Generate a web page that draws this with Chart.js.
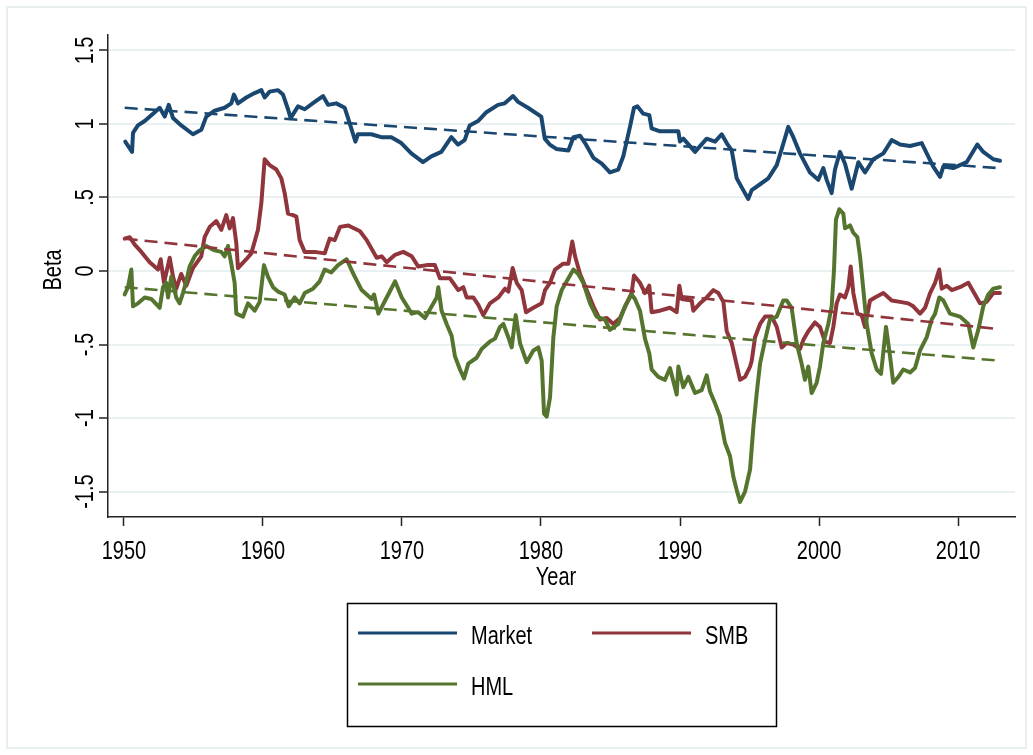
<!DOCTYPE html>
<html lang="en">
<head>
<meta charset="UTF-8">
<title>Rolling betas</title>
<script src="https://cdn.jsdelivr.net/npm/chart.js"></script>
<style>
  html, body { margin: 0; padding: 0; background: #fff; }
</style>
</head>
<body>
<canvas id="betaChart" width="1033" height="755"></canvas>
<script>
// values (year, beta)
const marketYears = [
  1950.09, 1950.58, 1950.65, 1951.00, 1951.49, 1952.09, 1952.57, 1952.93, 1953.22, 1953.53,
  1954.12, 1954.96, 1955.56, 1955.92, 1956.52, 1957.24, 1957.72, 1957.91, 1958.20, 1958.80,
  1959.40, 1959.88, 1960.12, 1960.48, 1961.08, 1961.44, 1961.80, 1961.99, 1962.52, 1963.00,
  1963.72, 1964.32, 1964.68, 1965.27, 1965.88, 1966.12, 1966.65, 1966.83, 1967.79, 1968.51,
  1969.23, 1969.95, 1970.67, 1971.51, 1972.11, 1972.83, 1973.55, 1974.03, 1974.51, 1974.87,
  1975.47, 1976.07, 1976.91, 1977.39, 1977.99, 1978.35, 1979.06, 1980.02, 1980.27, 1980.63,
  1981.10, 1981.97, 1982.33, 1982.81, 1983.17, 1983.77, 1984.37, 1984.96, 1985.56, 1985.92,
  1986.40, 1986.69, 1986.93, 1987.36, 1987.79, 1987.96, 1988.56, 1989.28, 1989.88, 1990.00,
  1990.24, 1991.08, 1991.92, 1992.52, 1993.00, 1993.36, 1993.72, 1994.08, 1994.55, 1994.91,
  1995.16, 1995.76, 1996.35, 1996.96, 1997.32, 1997.79, 1998.15, 1998.63, 1999.35, 1999.95,
  2000.31, 2000.55, 2000.91, 2001.15, 2001.51, 2001.87, 2002.35, 2002.83, 2003.31, 2003.91,
  2004.63, 2005.23, 2005.83, 2006.55, 2007.39, 2007.75, 2008.22, 2008.71, 2008.94, 2009.66,
  2010.62, 2011.39, 2011.82, 2012.54, 2013.02
];
const marketBeta = [
  0.88, 0.81, 0.94, 0.99, 1.02, 1.07, 1.11, 1.05, 1.13, 1.04,
  0.99, 0.93, 0.96, 1.05, 1.09, 1.11, 1.14, 1.20, 1.14, 1.18,
  1.21, 1.23, 1.18, 1.22, 1.23, 1.20, 1.10, 1.04, 1.12, 1.10,
  1.15, 1.19, 1.13, 1.14, 1.11, 1.04, 0.88, 0.93, 0.93, 0.91,
  0.91, 0.87, 0.80, 0.74, 0.78, 0.81, 0.91, 0.86, 0.89, 0.99,
  1.02, 1.08, 1.13, 1.14, 1.19, 1.15, 1.11, 1.05, 0.90, 0.86,
  0.83, 0.82, 0.91, 0.92, 0.87, 0.77, 0.73, 0.67, 0.69, 0.78,
  0.98, 1.11, 1.12, 1.07, 1.06, 0.97, 0.95, 0.95, 0.95, 0.88,
  0.90, 0.81, 0.90, 0.88, 0.93, 0.87, 0.82, 0.63, 0.55, 0.49,
  0.55, 0.59, 0.63, 0.72, 0.83, 0.98, 0.91, 0.80, 0.67, 0.62,
  0.70, 0.62, 0.53, 0.69, 0.81, 0.73, 0.56, 0.74, 0.67, 0.76,
  0.80, 0.89, 0.86, 0.85, 0.87, 0.80, 0.71, 0.64, 0.71, 0.70,
  0.74, 0.86, 0.81, 0.76, 0.75
];

const smbYears = [
  1950.05, 1950.41, 1950.77, 1951.25, 1951.85, 1952.45, 1952.64, 1952.88, 1953.29, 1953.53,
  1953.76, 1954.12, 1954.48, 1954.96, 1955.56, 1955.80, 1956.17, 1956.64, 1957.00, 1957.36,
  1957.60, 1957.84, 1958.08, 1958.20, 1958.80, 1959.16, 1959.64, 1959.88, 1960.12, 1960.48,
  1960.96, 1961.32, 1961.56, 1961.80, 1962.16, 1962.40, 1962.64, 1963.00, 1963.72, 1964.44,
  1964.80, 1965.16, 1965.54, 1966.14, 1966.98, 1967.46, 1968.18, 1968.54, 1968.90, 1969.50,
  1970.09, 1970.70, 1971.17, 1971.78, 1972.37, 1972.73, 1973.45, 1974.05, 1974.41, 1974.65,
  1975.13, 1975.49, 1975.85, 1976.33, 1976.93, 1977.41, 1977.65, 1977.96, 1978.25, 1978.61,
  1978.92, 1979.45, 1980.05, 1980.29, 1980.65, 1981.01, 1981.60, 1981.97, 1982.25, 1982.45,
  1982.81, 1983.29, 1983.77, 1984.24, 1984.73, 1985.20, 1985.68, 1986.16, 1986.52, 1986.69,
  1987.12, 1987.48, 1987.79, 1987.96, 1988.56, 1989.28, 1989.76, 1989.95, 1990.12, 1990.84,
  1990.96, 1991.44, 1991.92, 1992.40, 1992.76, 1993.12, 1993.36, 1993.72, 1994.08, 1994.32,
  1994.68, 1995.04, 1995.16, 1995.40, 1995.76, 1996.12, 1996.60, 1996.96, 1997.32, 1997.67,
  1998.15, 1998.63, 1998.87, 1999.23, 1999.71, 2000.07, 2000.43, 2000.79, 2001.03, 2001.27,
  2001.51, 2001.87, 2002.11, 2002.28, 2002.47, 2002.76, 2003.07, 2003.31, 2003.67, 2004.03,
  2004.63, 2005.23, 2005.83, 2006.42, 2006.78, 2007.27, 2007.63, 2007.99, 2008.35, 2008.65,
  2008.83, 2009.19, 2009.55, 2010.14, 2010.74, 2011.10, 2011.58, 2012.06, 2012.54, 2013.02
];
const smbBeta = [
  0.22, 0.23, 0.18, 0.13, 0.06, 0.01, 0.08, -0.08, 0.09, -0.04,
  -0.12, -0.02, -0.10, 0.02, 0.10, 0.23, 0.30, 0.34, 0.28, 0.38,
  0.29, 0.36, 0.19, 0.02, 0.08, 0.12, 0.28, 0.46, 0.76, 0.72,
  0.69, 0.63, 0.53, 0.39, 0.38, 0.37, 0.21, 0.13, 0.13, 0.12,
  0.22, 0.21, 0.30, 0.31, 0.27, 0.21, 0.09, 0.10, 0.06, 0.11,
  0.13, 0.10, 0.03, 0.04, 0.04, -0.05, -0.05, -0.13, -0.11, -0.18,
  -0.18, -0.23, -0.30, -0.22, -0.18, -0.12, -0.14, 0.02, -0.08, -0.13,
  -0.28, -0.25, -0.22, -0.13, -0.08, 0.01, 0.05, 0.05, 0.20, 0.10,
  -0.02, -0.13, -0.24, -0.33, -0.32, -0.36, -0.32, -0.22, -0.15, -0.03,
  -0.08, -0.15, -0.10, -0.28, -0.27, -0.25, -0.28, -0.10, -0.19, -0.20,
  -0.27, -0.22, -0.18, -0.13, -0.15, -0.21, -0.41, -0.49, -0.64, -0.74,
  -0.72, -0.65, -0.61, -0.45, -0.36, -0.31, -0.31, -0.38, -0.52, -0.49,
  -0.50, -0.53, -0.47, -0.41, -0.35, -0.38, -0.48, -0.49, -0.38, -0.22,
  -0.16, -0.18, -0.11, 0.03, -0.15, -0.29, -0.30, -0.38, -0.20, -0.18,
  -0.15, -0.20, -0.21, -0.22, -0.24, -0.29, -0.25, -0.15, -0.08, 0.01,
  -0.12, -0.10, -0.13, -0.11, -0.08, -0.14, -0.22, -0.21, -0.15, -0.15
];

const hmlYears = [
  1950.05, 1950.29, 1950.53, 1950.65, 1951.01, 1951.49, 1951.96, 1952.57, 1952.81, 1953.04,
  1953.17, 1953.40, 1953.76, 1954.00, 1954.24, 1954.48, 1954.72, 1955.08, 1955.44, 1955.92,
  1956.52, 1957.00, 1957.24, 1957.48, 1957.72, 1957.96, 1958.08, 1958.56, 1958.92, 1959.40,
  1959.76, 1960.07, 1960.36, 1960.72, 1961.08, 1961.56, 1961.85, 1962.28, 1962.64, 1963.00,
  1963.60, 1964.08, 1964.44, 1964.91, 1965.40, 1966.02, 1966.50, 1967.10, 1967.82, 1967.99,
  1968.30, 1968.90, 1969.50, 1969.98, 1970.70, 1971.17, 1971.65, 1972.14, 1972.50, 1972.61,
  1972.85, 1973.21, 1973.57, 1973.81, 1974.17, 1974.46, 1974.77, 1975.37, 1975.73, 1976.33,
  1976.69, 1977.05, 1977.29, 1977.65, 1977.89, 1978.18, 1978.49, 1978.97, 1979.45, 1979.81,
  1980.05, 1980.22, 1980.41, 1980.65, 1980.89, 1981.13, 1981.49, 1981.85, 1982.33, 1982.68,
  1983.04, 1983.53, 1984.00, 1984.60, 1984.96, 1985.56, 1986.04, 1986.52, 1986.76, 1987.12,
  1987.48, 1987.79, 1987.96, 1988.44, 1988.92, 1989.28, 1989.76, 1989.88, 1990.24, 1990.60,
  1991.08, 1991.56, 1991.92, 1992.16, 1992.52, 1992.88, 1993.24, 1993.60, 1993.84, 1994.08,
  1994.32, 1994.68, 1995.04, 1995.28, 1995.52, 1995.76, 1996.12, 1996.47, 1996.96, 1997.43,
  1997.67, 1998.03, 1998.39, 1998.75, 1998.99, 1999.23, 1999.47, 1999.83, 2000.07, 2000.31,
  2000.67, 2000.91, 2001.08, 2001.22, 2001.46, 2001.75, 2001.87, 2002.23, 2002.47, 2002.76,
  2002.95, 2003.14, 2003.43, 2003.79, 2004.15, 2004.46, 2004.82, 2005.11, 2005.34, 2005.71,
  2006.06, 2006.55, 2006.91, 2007.27, 2007.75, 2008.11, 2008.35, 2008.65, 2008.94, 2009.42,
  2010.14, 2010.74, 2011.10, 2011.46, 2011.82, 2012.18, 2012.54, 2013.02
];
const hmlBeta = [
  -0.16, -0.11, 0.01, -0.24, -0.22, -0.18, -0.19, -0.25, -0.11, -0.08,
  -0.18, -0.04, -0.18, -0.22, -0.15, -0.07, 0.03, 0.10, 0.14, 0.17,
  0.14, 0.13, 0.10, 0.17, 0.05, -0.08, -0.29, -0.31, -0.22, -0.27,
  -0.21, 0.04, -0.04, -0.11, -0.14, -0.16, -0.24, -0.18, -0.22, -0.15,
  -0.12, -0.07, 0.01, -0.01, 0.04, 0.08, -0.02, -0.13, -0.19, -0.16,
  -0.29, -0.18, -0.07, -0.18, -0.29, -0.28, -0.32, -0.24, -0.18, -0.11,
  -0.27, -0.36, -0.44, -0.58, -0.67, -0.73, -0.63, -0.59, -0.53, -0.48,
  -0.46, -0.38, -0.36, -0.45, -0.52, -0.30, -0.49, -0.62, -0.54, -0.52,
  -0.61, -0.97, -0.99, -0.86, -0.45, -0.24, -0.13, -0.07, 0.01, -0.02,
  -0.08, -0.22, -0.31, -0.33, -0.40, -0.36, -0.24, -0.16, -0.19, -0.27,
  -0.46, -0.56, -0.67, -0.72, -0.74, -0.66, -0.84, -0.65, -0.79, -0.72,
  -0.83, -0.81, -0.71, -0.82, -0.90, -0.99, -1.17, -1.26, -1.40, -1.49,
  -1.57, -1.50, -1.35, -1.06, -0.83, -0.63, -0.47, -0.33, -0.31, -0.20,
  -0.20, -0.25, -0.49, -0.63, -0.74, -0.65, -0.83, -0.76, -0.65, -0.49,
  -0.36, -0.24, 0.01, 0.35, 0.42, 0.39, 0.29, 0.31, 0.26, 0.23,
  0.10, -0.08, -0.36, -0.56, -0.67, -0.70, -0.38, -0.58, -0.76, -0.72,
  -0.67, -0.69, -0.66, -0.54, -0.45, -0.33, -0.29, -0.18, -0.20, -0.29,
  -0.31, -0.36, -0.52, -0.40, -0.24, -0.16, -0.12, -0.11
];

// linear fits (end points)
const fitYears = [1950.05, 2012.95];
const marketFit = [1.11, 0.70];
const smbFit = [0.22, -0.395];
const hmlFit = [-0.11, -0.61];

const yTicks = [-1.5, -1, -0.5, 0, 0.5, 1, 1.5];
const yTickLabels = ['-1.5', '-1', '-.5', '0', '.5', '1', '1.5'];
const xTicks = [1950, 1960, 1970, 1980, 1990, 2000, 2010];
const xTickLabels = ['1950', '1960', '1970', '1980', '1990', '2000', '2010'];

const NAVY = '#1a476f', MAROON = '#90353b', GREEN = '#55752f';
const FONT = '"Liberation Sans", Arial, sans-serif';
const TXT = 25;      // font px
const SQUEEZE = 0.8; // Stata text is narrow

function pts(xs, ys) {
  return xs.map((x, i) => ({ x: x, y: ys[i] }));
}

function drawText(ctx, txt, x, y, align, rot) {
  ctx.save();
  ctx.translate(x, y);
  if (rot) ctx.rotate(rot);
  ctx.scale(SQUEEZE, 1);
  ctx.font = TXT + 'px ' + FONT;
  ctx.fillStyle = '#000';
  ctx.textAlign = align;
  ctx.textBaseline = 'alphabetic';
  ctx.fillText(txt, 0, 0);
  ctx.restore();
}

const framePlugin = {
  id: 'frame',
  beforeDraw(chart) {
    const ctx = chart.ctx;
    ctx.save();
    ctx.fillStyle = '#fff';
    ctx.fillRect(0, 0, chart.width, chart.height);
    ctx.strokeStyle = '#e8eff1';
    ctx.lineWidth = 2;
    ctx.strokeRect(7, 7, chart.width - 14, chart.height - 14);
    ctx.restore();
  }
};

const textPlugin = {
  id: 'stataText',
  afterDraw(chart) {
    const ctx = chart.ctx;
    const xs = chart.scales.x, ys = chart.scales.y;

    xs.ticks.forEach((t, i) => {
      drawText(ctx, xTickLabels[i], xs.getPixelForValue(t.value), 559, 'center');
    });
    ys.ticks.forEach((t, i) => {
      drawText(ctx, yTickLabels[i], 93, ys.getPixelForValue(t.value), 'center', -Math.PI / 2);
    });
    drawText(ctx, 'Year', 556, 585, 'center');
    drawText(ctx, 'Beta', 61, 270, 'center', -Math.PI / 2);

    // legend box
    ctx.save();
    ctx.strokeStyle = '#000';
    ctx.lineWidth = 1.5;
    ctx.strokeRect(347.5, 603.5, 429, 123);
    const slots = [[358, 633], [592, 633], [358, 684]];
    chart.data.datasets.filter(d => d.inLegend).forEach((d, i) => {
      const [lx, ly] = slots[i];
      ctx.strokeStyle = d.borderColor;
      ctx.lineWidth = 3;
      ctx.beginPath();
      ctx.moveTo(lx, ly);
      ctx.lineTo(lx + 99, ly);
      ctx.stroke();
      drawText(ctx, d.label, lx + 113, ly + 10.5, 'left');
    });
    ctx.restore();
  }
};

const solid = (label, xs, ys, color, order) => ({
  label: label, data: pts(xs, ys), borderColor: color, backgroundColor: color,
  borderWidth: 4, pointRadius: 0, tension: 0, order: order, inLegend: true,
  borderJoinStyle: 'round', borderCapStyle: 'round'
});
const dashed = (label, ys, color) => ({
  label: label, data: pts(fitYears, ys), borderColor: color,
  borderWidth: 2.6, borderDash: [13, 7], pointRadius: 0, order: 0, inLegend: false
});

new Chart(document.getElementById('betaChart'), {
  type: 'line',
  data: {
    datasets: [
      solid('Market', marketYears, marketBeta, NAVY, 3),
      solid('SMB', smbYears, smbBeta, MAROON, 2),
      solid('HML', hmlYears, hmlBeta, GREEN, 1),
      dashed('Market fit', marketFit, NAVY),
      dashed('SMB fit', smbFit, MAROON),
      dashed('HML fit', hmlFit, GREEN)
    ]
  },
  options: {
    responsive: false,
    animation: false,
    devicePixelRatio: 1,
    layout: { padding: { left: 0, top: 35, right: 18, bottom: 198 } },
    plugins: { legend: { display: false }, tooltip: { enabled: false } },
    scales: {
      x: {
        type: 'linear',
        min: 1948.85,
        max: 2014.1,
        afterFit: s => { s.height = 40; },
        afterBuildTicks: s => { s.ticks = xTicks.map(v => ({ value: v })); },
        ticks: { display: false },
        grid: { drawOnChartArea: false, tickColor: '#222', tickLength: 9, tickWidth: 1.5 },
        border: { color: '#222', width: 1.5 }
      },
      y: {
        min: -1.673,
        max: 1.605,
        afterFit: s => { s.width = 108; },
        afterBuildTicks: s => { s.ticks = yTicks.map(v => ({ value: v })); },
        ticks: { display: false },
        grid: { color: '#e9f0f2', lineWidth: 2, tickColor: '#222', tickLength: 9, tickWidth: 1.5 },
        border: { color: '#222', width: 1.5 }
      }
    }
  },
  plugins: [framePlugin, textPlugin]
});
</script>
</body>
</html>
